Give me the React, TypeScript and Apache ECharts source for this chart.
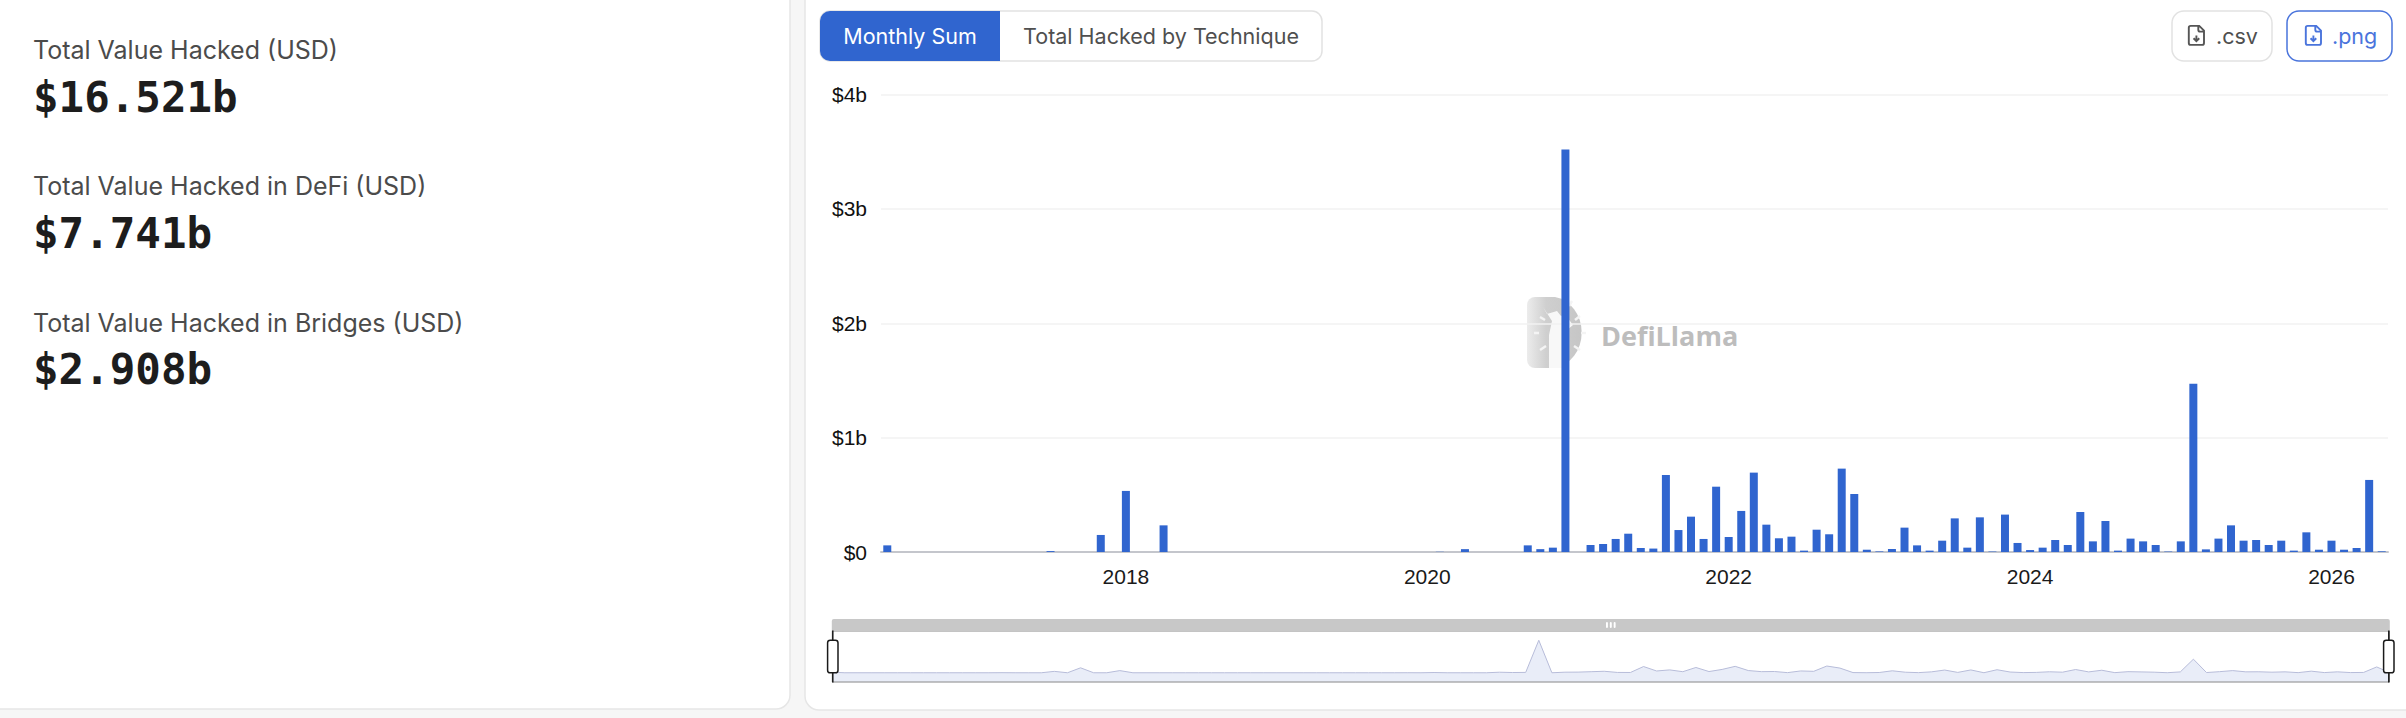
import React, { useEffect, useRef } from "react";
import * as echarts from "echarts";

const startYear = 2016;
const startMonth = 6;
const monthlySumBillions = [
  0.058, 0, 0, 0, 0, 0, 0,
  0, 0, 0, 0, 0, 0, 0.008, 0, 0, 0, 0.149, 0,
  0.534, 0, 0, 0.233, 0, 0, 0, 0, 0, 0, 0, 0,
  0, 0, 0, 0, 0, 0, 0, 0, 0, 0, 0, 0,
  0, 0.002, 0, 0.025, 0, 0, 0, 0, 0.058, 0.025, 0.038, 3.52,
  0, 0.061, 0.07, 0.114, 0.16, 0.035, 0.03, 0.673, 0.192, 0.309, 0.114, 0.571,
  0.131, 0.359, 0.694, 0.239, 0.12, 0.134, 0.012, 0.195, 0.155, 0.729, 0.507, 0.02,
  0.005, 0.026, 0.213, 0.058, 0.012, 0.099, 0.294, 0.038, 0.303, 0.004, 0.327, 0.079,
  0.017, 0.038, 0.105, 0.061, 0.35, 0.093, 0.271, 0.012, 0.117, 0.093, 0.061, 0.004,
  0.093, 1.47, 0.023, 0.117, 0.233, 0.099, 0.105, 0.061, 0.099, 0.012, 0.172, 0.02,
  0.099, 0.02, 0.035, 0.63, 0.006,
];
const months = monthlySumBillions.map((_, i) => {
  const m = startMonth - 1 + i;
  return `${startYear + Math.floor(m / 12)}-${String((m % 12) + 1).padStart(2, "0")}`;
});
const yearTicks = ["2018", "2020", "2022", "2024", "2026"];
const stats = [
  { label: "Total Value Hacked (USD)", value: "$16.521b" },
  { label: "Total Value Hacked in DeFi (USD)", value: "$7.741b" },
  { label: "Total Value Hacked in Bridges (USD)", value: "$2.908b" },
];

const BLUE = "#3065cf";
const INTER = "Inter, 'Noto Sans', sans-serif";
const HELV = "'Liberation Sans', Arial, sans-serif";

const fileDown =
  "M15 2H6a2 2 0 0 0-2 2v16a2 2 0 0 0 2 2h12a2 2 0 0 0 2-2V7Z M14 2v4a2 2 0 0 0 2 2h4 M12 18v-6 M9 15l3 3 3-3";
const llamaBadge =
  "M8 0H28A32 36 0 0 1 28 71H8A8 8 0 0 1 0 63V8A8 8 0 0 1 8 0Z";
const llamaBody =
  "M16 10L20 17L30 14L34 19L37 18L37 12L40 20L46 28L40 33L36 30L36 71L22 71L22 38L25 24Z";
echarts.graphic.registerShape("fileDown", echarts.graphic.extendPath(fileDown, {}));
echarts.graphic.registerShape("llamaBadge", echarts.graphic.extendPath(llamaBadge, {}));
echarts.graphic.registerShape("llamaBody", echarts.graphic.extendPath(llamaBody, {}));

const statGraphics = stats.flatMap((s, i) => {
  const ys = [50, 186, 323];
  const yv = [97, 233, 369];
  return [
    {
      type: "text",
      x: 33,
      y: ys[i],
      style: { text: s.label, fill: "#4b4b4b", font: `400 25px ${INTER}`, textVerticalAlign: "middle" },
    },
    {
      type: "text",
      x: 33,
      y: yv[i],
      style: { text: s.value, fill: "#1d1d1d", font: "700 42.5px 'DejaVu Sans Mono', monospace", textVerticalAlign: "middle" },
    },
  ];
});

const rayLines = [
  [1540, 317, 1545, 320],
  [1534, 333, 1539, 333],
  [1540, 350, 1546, 346],
  [1575, 320, 1580, 316],
  [1581, 333, 1586, 333],
  [1574, 346, 1580, 350],
  [1569, 306, 1572, 301],
];

const graphics: any[] = [
  { type: "rect", z: -20, shape: { x: 0, y: 0, width: 2406, height: 718 }, style: { fill: "#f6f6f6" }, silent: true },
  { type: "rect", z: -19, shape: { x: -20, y: -20, width: 810, height: 729, r: 14 }, style: { fill: "#ffffff", stroke: "#e6e6e6", lineWidth: 1.5 }, silent: true },
  { type: "rect", z: -19, shape: { x: 805, y: -20, width: 1620, height: 730, r: 14 }, style: { fill: "#ffffff", stroke: "#e6e6e6", lineWidth: 1.5 }, silent: true },
  ...statGraphics,
  // segmented control
  { type: "rect", shape: { x: 820, y: 11, width: 502, height: 50, r: 10 }, style: { fill: "#fff", stroke: "#e2e2e2", lineWidth: 1.5 } },
  { type: "rect", shape: { x: 820, y: 11, width: 180, height: 50, r: [10, 0, 0, 10] }, style: { fill: BLUE } },
  { type: "text", x: 910, y: 36, style: { text: "Monthly Sum", fill: "#fff", font: `400 21.5px ${INTER}`, textAlign: "center", textVerticalAlign: "middle" } },
  { type: "text", x: 1161, y: 36, style: { text: "Total Hacked by Technique", fill: "#4f4f4f", font: `400 21.5px ${INTER}`, textAlign: "center", textVerticalAlign: "middle" } },
  // download buttons
  { type: "rect", shape: { x: 2172, y: 11, width: 100, height: 50, r: 12 }, style: { fill: "#fff", stroke: "#e2e2e2", lineWidth: 1.5 } },
  { type: "fileDown", x: 2185, y: 24, scaleX: 0.95, scaleY: 0.95, style: { fill: "none", stroke: "#555", lineWidth: 2 } },
  { type: "text", x: 2216, y: 36, style: { text: ".csv", fill: "#4f4f4f", font: `400 21.5px ${INTER}`, textVerticalAlign: "middle" } },
  { type: "rect", shape: { x: 2287, y: 11, width: 105, height: 50, r: 12 }, style: { fill: "#fff", stroke: "#4a74dc", lineWidth: 1.5 } },
  { type: "fileDown", x: 2302, y: 24, scaleX: 0.95, scaleY: 0.95, style: { fill: "none", stroke: "#4a74dc", lineWidth: 2 } },
  { type: "text", x: 2332, y: 36, style: { text: ".png", fill: "#4a74dc", font: `400 21.5px ${INTER}`, textVerticalAlign: "middle" } },
  // watermark
  {
    type: "llamaBadge",
    z: -5,
    x: 1527,
    y: 297,
    style: {
      fill: {
        type: "linear", x: 0, y: 0, x2: 1, y2: 0,
        colorStops: [{ offset: 0, color: "#ececec" }, { offset: 0.35, color: "#cfcfcf" }, { offset: 1, color: "#c6c6c6" }],
      },
    },
  },
  { type: "llamaBody", z: -4, x: 1527, y: 297, style: { fill: "#f8f8f8" } },
  ...rayLines.map(([x1, y1, x2, y2]) => ({
    type: "line",
    z: -4,
    shape: { x1, y1, x2, y2 },
    style: { stroke: "#f4f4f4", lineWidth: 2.5 },
  })),
  { type: "text", z: -4, x: 1601, y: 335, style: { text: "DefiLlama", fill: "#bdbdbd", font: "700 27px 'Open Sans', sans-serif", textVerticalAlign: "middle" } },
];

export default function App() {
  const ref = useRef<HTMLDivElement>(null);
  useEffect(() => {
    document.body.style.margin = "0";
    const chart = echarts.init(ref.current!, undefined, { renderer: "svg" });
    const isYearTick = (index: number) =>
      months[index].endsWith("-01") && yearTicks.includes(months[index].slice(0, 4));
    chart.setOption({
      animation: false,
      graphic: graphics,
      grid: { left: 881, top: 94.5, width: 1507, height: 457.5, containLabel: false },
      tooltip: { show: false },
      xAxis: {
        type: "category",
        data: months,
        axisLine: { lineStyle: { color: "#c4c6cc", width: 2 } },
        axisTick: { interval: isYearTick, alignWithLabel: true, length: 9, lineStyle: { color: "#333", width: 2 } },
        axisLabel: {
          interval: isYearTick,
          formatter: (v: string) => v.slice(0, 4),
          color: "#1a1a1a",
          fontFamily: HELV,
          fontSize: 21,
          margin: 14,
        },
        splitLine: { show: false },
      },
      yAxis: {
        type: "value",
        min: 0,
        max: 4,
        interval: 1,
        axisLine: { show: false },
        axisTick: { show: false },
        axisLabel: {
          formatter: (v: number) => (v === 0 ? "$0" : `$${v}b`),
          color: "#111",
          fontFamily: HELV,
          fontSize: 21,
          margin: 14,
        },
        splitLine: { lineStyle: { color: "#f2f2f2", width: 1.5 } },
      },
      dataZoom: [
        {
          type: "slider",
          xAxisIndex: 0,
          start: 0,
          end: 100,
          left: 827,
          right: 21,
          top: 619,
          height: 52,
          showDetail: false,
          brushSelect: true,
          borderColor: "#8a8a8a",
          borderRadius: 0,
          fillerColor: "rgba(255,255,255,0)",
          backgroundColor: "rgba(255,255,255,0)",
          moveHandleSize: 12,
          moveHandleStyle: { color: "#c8c8c8", opacity: 1 },
          handleStyle: { color: "#fff", borderColor: "#1a1a1a", borderWidth: 1.5 },
          dataBackground: {
            lineStyle: { color: "#b7bcd9", width: 1 },
            areaStyle: { color: "#e9edf8", opacity: 1 },
          },
          selectedDataBackground: {
            lineStyle: { color: "#b7bcd9", width: 1 },
            areaStyle: { color: "#e9edf8", opacity: 1 },
          },
        },
      ],
      series: [
        {
          type: "bar",
          name: "Monthly Sum",
          data: monthlySumBillions,
          barWidth: 8,
          itemStyle: { color: BLUE },
        },
      ],
    });
    return () => chart.dispose();
  }, []);
  return <div ref={ref} style={{ width: 2406, height: 718 }} />;
}
